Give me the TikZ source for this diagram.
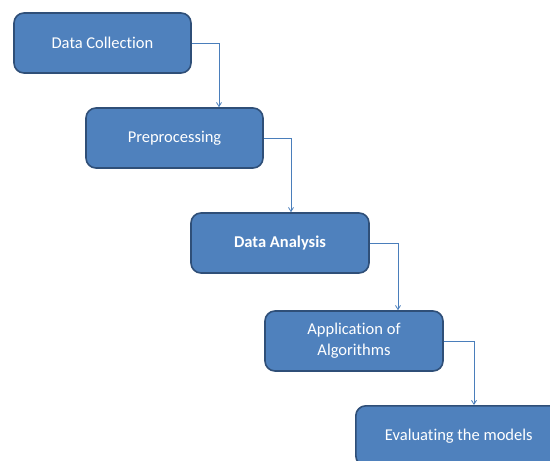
\documentclass[tikz,border=0pt]{standalone}
\usepackage{fontspec}
\setmainfont[RawFeature=-liga]{Carlito}
\usetikzlibrary{arrows.meta}
\tikzset{
  stage/.style={draw=boxedge, fill=boxfill, line width=1.6pt, rounded corners=10pt,
    minimum height=60pt, text=white, align=center, inner sep=2pt,
    font=\fontsize{16.5pt}{21pt}\selectfont},
  link/.style={draw=linkcol, line width=0.8pt, -{Straight Barb[length=4pt,width=5pt]}}
}
\definecolor{boxfill}{HTML}{4F81BD}
\definecolor{boxedge}{HTML}{2F4F78}
\definecolor{linkcol}{HTML}{4A7EBB}
\begin{document}
\begin{tikzpicture}[x=1pt,y=-1pt]
  \useasboundingbox (0,0) rectangle (550,461);
  \clip (0,0) rectangle (550,461);
  \node[stage, minimum width=177pt] (dc) at (102.5,43) {Data Collection};
  \node[stage, minimum width=177pt] (pp) at (174.5,138) {Preprocessing};
  \node[stage, minimum width=178pt, font=\fontsize{16.5pt}{21pt}\selectfont\bfseries] (da) at (280,243) {Data Analysis};
  \node[stage, minimum width=178pt] (aa) at (354,341) {Application of\\Algorithms};
  \node[stage, minimum width=206pt, anchor=north west] (ev) at (355,405) {Evaluating the models};
  \draw[link] (dc.east) -| (pp.north -| 219,0);
  \draw[link] (pp.east) -| (da.north -| 291,0);
  \draw[link] (da.east) -| (aa.north -| 398,0);
  \draw[link] (aa.east) -| (ev.north -| 474,0);
\end{tikzpicture}
\end{document}
